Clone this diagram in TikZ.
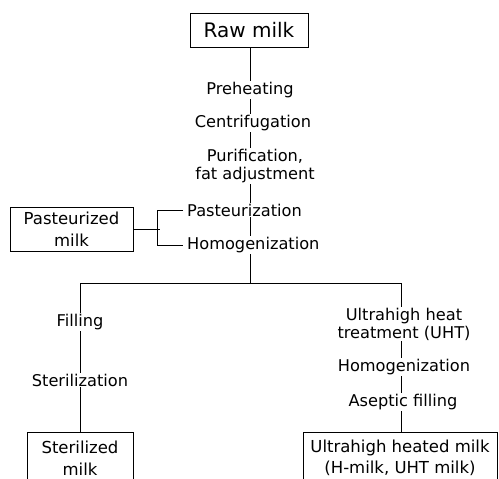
\documentclass[tikz,border=0pt]{standalone}
\usepackage{fontspec}
\setmainfont{DejaVu Sans}
\tikzset{
  lbl/.style={font=\fontsize{16.2}{18}\selectfont, inner sep=1pt, align=center},
  boxn/.style={draw, line width=1pt, font=\fontsize{16.5}{21.5}\selectfont, align=center, inner sep=2pt},
  conn/.style={line width=1pt}
}
\begin{document}
\begin{tikzpicture}[x=1pt,y=-1pt]
\useasboundingbox (0,0) rectangle (499,479);
\clip (0,0) rectangle (499,479);
% boxes
\node[boxn, minimum width=118pt, minimum height=34pt, font=\fontsize{20}{24}\selectfont] (raw) at (249,30) {Raw milk};
\node[boxn, minimum width=123pt, minimum height=44pt] (pm) at (71.5,229) {Pasteurized\\milk};
\node[boxn, minimum width=106pt, minimum height=52pt] (sm) at (80,458) {Sterilized\\milk};
\node[boxn, minimum width=194pt, minimum height=52pt] (um) at (400,458) {Ultrahigh heated milk\\(H-milk, UHT milk)};
% labels
\node[lbl] (pre) at (250,90) {Preheating};
\node[lbl] (cen) at (253,123) {Centrifugation};
\node[lbl] (pur) at (255,166) {Purification,\\fat adjustment};
\node[lbl, anchor=west] (past) at (186,210) {Pasteurization};
\node[lbl, anchor=west] (hom) at (186,245) {Homogenization};
\node[lbl] (fill) at (80,322) {Filling};
\node[lbl] (ster) at (80,380) {Sterilization};
\node[lbl] (uht) at (404,324) {Ultrahigh heat\\treatment (UHT)};
\node[lbl] (hom2) at (404,367) {Homogenization};
\node[lbl] (asep) at (403,402) {Aseptic filling};
% coordinates
\coordinate (mx) at (250,0);
\coordinate (brk) at (160,229);
\coordinate (lft) at (80,283);
\coordinate (rgt) at (401,283);
\coordinate (mid) at (250,283);
% connectors
\draw[conn] (raw.south -| mx) -- (pre.north -| mx);
\draw[conn] (pre.south -| mx) -- (cen.north -| mx);
\draw[conn] (cen.south -| mx) -- (pur.north -| mx);
\draw[conn] (pur.south -| mx) -- (past.north -| mx);
\draw[conn] (past.south -| mx) -- (hom.north -| mx);
\draw[conn] (hom.south -| mx) -- (mid);
\draw[conn] (pm.east) -- (brk);
\draw[conn] ([xshift=-3pt]past.west) -- ([xshift=-3pt]past.west -| brk) -- ([xshift=-3pt]hom.west -| brk) -- ([xshift=-3pt]hom.west);
\draw[conn] (fill.north) -- (lft) -- (rgt) -- (uht.north -| rgt);
\draw[conn] (fill.south) -- (ster.north);
\draw[conn] (ster.south) -- (sm.north);
\draw[conn] (uht.south -| rgt) -- (hom2.north -| rgt);
\draw[conn] (hom2.south -| rgt) -- (asep.north -| rgt);
\draw[conn] (asep.south -| rgt) -- (um.north -| rgt);
\end{tikzpicture}
\end{document}
